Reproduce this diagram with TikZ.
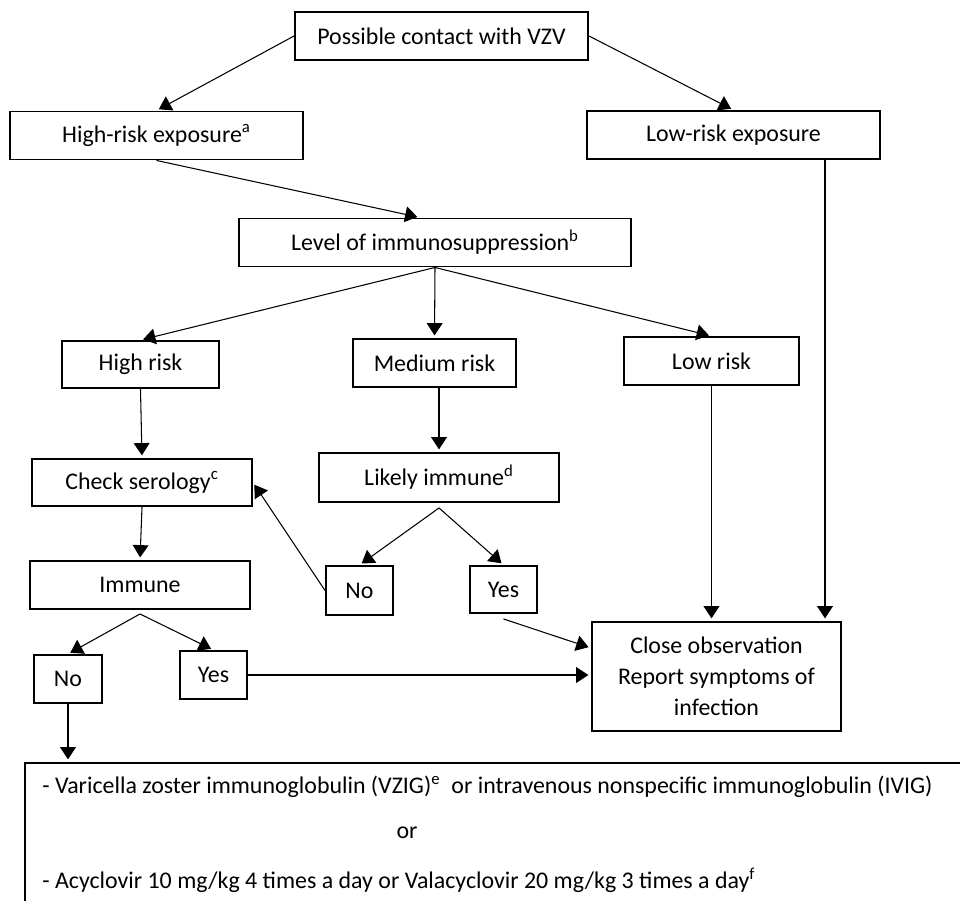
\documentclass[tikz,border=0pt]{standalone}
\usepackage{fontspec}
\setmainfont{Carlito}
\usetikzlibrary{arrows.meta}

\begin{document}
\begin{tikzpicture}[
        box/.style={draw, line width=1.1pt, inner sep=0pt, align=center, font=\fontsize{13.6}{17.6}\selectfont},
        txt/.style={inner sep=0pt, font=\fontsize{13.6}{17.6}\selectfont},
        arr/.style={-{Triangle[width=9pt,length=7pt]}, line width=0.6pt, shorten >=1.5pt}]
        \useasboundingbox (0,0) rectangle (19.2,18);

        \node[box, minimum width=5.86cm, minimum height=0.96cm] (contact) at (8.83,17.28) {Possible contact with VZV};
        \node[box, minimum width=5.86cm, minimum height=0.96cm] (highexp) at (3.13,15.29) {High-risk exposure\textsuperscript{a}};
        \node[box, minimum width=5.86cm, minimum height=0.96cm] (lowexp) at (14.67,15.30) {Low-risk exposure};
        \node[box, minimum width=7.84cm, minimum height=0.96cm] (level) at (8.70,13.15) {Level of immunosuppression\textsuperscript{b}};

        \node[box, minimum width=3.14cm, minimum height=0.94cm] (highrisk) at (2.81,10.71) {High risk};
        \node[box, minimum width=3.26cm, minimum height=0.96cm] (medrisk) at (8.69,10.74) {Medium risk};
        \node[box, minimum width=3.50cm, minimum height=0.96cm] (lowrisk) at (14.23,10.78) {Low risk};

        \node[box, minimum width=4.40cm, minimum height=0.94cm] (checkser) at (2.84,8.35) {Check serology\textsuperscript{c}};
        \node[box, minimum width=4.80cm, minimum height=0.98cm] (likely) at (8.78,8.45) {Likely immune\textsuperscript{d}};
        \node[box, minimum width=4.40cm, minimum height=0.96cm] (immune) at (2.80,6.30) {Immune};
        \node[box, minimum width=1.34cm, minimum height=0.98cm] (nomid) at (7.19,6.19) {No};
        \node[box, minimum width=1.34cm, minimum height=0.94cm] (yesmid) at (10.07,6.21) {Yes};
        \node[box, minimum width=1.36cm, minimum height=0.96cm] (noleft) at (1.36,4.42) {No};
        \node[box, minimum width=1.34cm, minimum height=0.96cm] (yesleft) at (4.27,4.50) {Yes};
        \node[box, minimum width=4.98cm, minimum height=2.18cm] (closeobs) at (14.33,4.47) {Close observation\\Report symptoms of\\infection};

        \node[box, anchor=north west, minimum width=19.5cm, minimum height=3.2cm] (treat) at (0.48,2.76) {};
        \node[txt, anchor=west] (vzig) at (0.84,2.26) {- Varicella zoster immunoglobulin (VZIG)\textsuperscript{e}\ \ or intravenous nonspecific immunoglobulin (IVIG)};
        \node[txt] (ortext) at (8.14,1.34) {or};
        \node[txt, anchor=west] (acyc) at (0.84,0.40) {- Acyclovir 10 mg/kg 4 times a day or Valacyclovir 20 mg/kg 3 times a day\textsuperscript{f}};

        \draw[arr] (contact.west) -- (highexp.north);
        \draw[arr] (contact.east) -- (lowexp.north);
        \draw[arr] (highexp.south) -- ([xshift=-0.3cm]level.north);
        \draw[arr] (level.south) -- (highrisk.north);
        \draw[arr] (level.south) -- (medrisk.north);
        \draw[arr] (level.south) -- (lowrisk.north);
        \draw[arr] (highrisk.south) -- (checkser.north);
        \draw[arr] (likely.north |- medrisk.south) -- (likely.north);
        \draw[arr] (lowrisk.south) -- (lowrisk.south |- closeobs.north);
        \draw[arr] ([xshift=1.83cm]lowexp.south) -- ([xshift=1.83cm]lowexp.south |- closeobs.north);
        \draw[arr] (checkser.south) -- (immune.north);
        \draw[arr] ([yshift=-0.08cm]immune.south) -- (noleft.north);
        \draw[arr] ([yshift=-0.08cm]immune.south) -- (yesleft.north);
        \draw[arr] ([yshift=-0.1cm]likely.south) -- (nomid.north);
        \draw[arr] ([yshift=-0.1cm]likely.south) -- (yesmid.north);
        \draw[arr] (nomid.west) -- (checkser.east);
        \draw[arr] ([yshift=-0.1cm]yesmid.south) -- ([yshift=0.57cm]closeobs.west);
        \draw[arr] (yesleft.east) -- (yesleft.east -| closeobs.west);
        \draw[arr] (noleft.south) -- (noleft.south |- treat.north);
    \end{tikzpicture}
\end{document}
